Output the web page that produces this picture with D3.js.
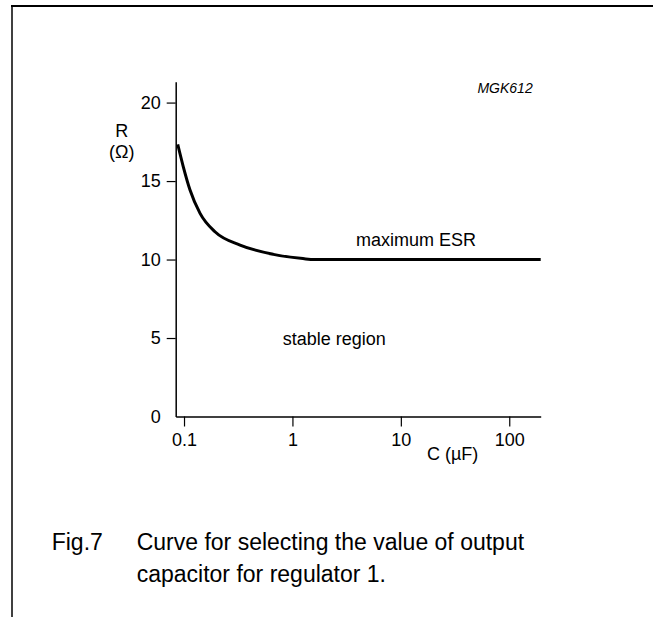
<!DOCTYPE html>
<html>
<head>
<meta charset="utf-8">
<script src="https://cdn.jsdelivr.net/npm/d3@7"></script>
<style>
  body { margin: 0; background: #fff; }
  svg { display: block; font-family: "Liberation Sans", Arial, sans-serif; }
</style>
</head>
<body>
<script>
// Data
const capacitance = [0.0875, 0.0985, 0.1136, 0.1406, 0.193, 0.329, 0.667, 1.25, 1.6, 10, 100, 195];
const maxEsr = [17.34, 15.91, 14.43, 12.94, 11.77, 10.92, 10.33, 10.06, 10.0, 10.0, 10.0, 10.0];
const xTicks = [0.1, 1, 10, 100];
const yTicks = [0, 5, 10, 15, 20];
const xTickLabels = ["0.1", "1", "10", "100"];

const width = 653, height = 617;

const svg = d3.select("body").append("svg")
    .attr("width", width)
    .attr("height", height);

// Frame
svg.append("line")
    .attr("x1", 11).attr("x2", width)
    .attr("y1", 6).attr("y2", 6)
    .attr("stroke", "#000").attr("stroke-width", 2);
svg.append("line")
    .attr("x1", 12).attr("x2", 12)
    .attr("y1", 5).attr("y2", height)
    .attr("stroke", "#000").attr("stroke-width", 1.5);

// Scales
const x = d3.scaleLog()
    .domain([0.0838, 195])
    .range([175.7, 540.7]);

const y = d3.scaleLinear()
    .domain([0, 21.33])
    .range([416.5, 81.7]);

// Axes
const xAxis = svg.append("g")
    .attr("transform", `translate(0,${y(0)})`)
    .call(d3.axisBottom(x)
        .tickValues(xTicks)
        .tickFormat((d, i) => xTickLabels[i])
        .tickSize(10)
        .tickSizeOuter(0)
        .tickPadding(7));

const yAxis = svg.append("g")
    .attr("transform", `translate(${x.range()[0]},0)`)
    .call(d3.axisLeft(y)
        .tickValues(yTicks)
        .tickSize(9)
        .tickSizeOuter(0)
        .tickPadding(6));

// no tick mark at 0
yAxis.selectAll(".tick").filter(d => d === 0).select("line").remove();

[xAxis, yAxis].forEach(g => {
    g.select(".domain").attr("stroke", "#000").attr("stroke-width", 1.5);
    g.selectAll(".tick line").attr("stroke", "#000").attr("stroke-width", 1.2);
    g.selectAll(".tick text")
        .attr("fill", "#000")
        .style("font-size", "18px")
        .style("font-family", "'Liberation Sans', Arial, sans-serif");
});

// Curve
const line = d3.line()
    .x((d, i) => x(capacitance[i]))
    .y(d => y(d))
    .curve(d3.curveMonotoneX);

svg.append("path")
    .datum(maxEsr)
    .attr("d", line)
    .attr("fill", "none")
    .attr("stroke", "#000")
    .attr("stroke-width", 3);

// Labels
const text = (s, tx, ty, size, anchor = "start", style = "normal") =>
    svg.append("text")
        .attr("x", tx).attr("y", ty)
        .attr("text-anchor", anchor)
        .style("font-size", size + "px")
        .style("font-style", style)
        .attr("fill", "#000")
        .text(s);

text("R", 121.7, 136.7, 18, "middle");
text("(Ω)", 121.7, 158, 18, "middle");
text("MGK612", 532.7, 93.3, 14, "end", "italic");
text("maximum ESR", 356, 245.7, 18);
text("stable region", 282.7, 345, 18);
text("C (µF)", 427, 460, 18);

// Caption
text("Fig.7", 51.7, 550, 23);
text("Curve for selecting the value of output", 136.7, 550, 23);
text("capacitor for regulator 1.", 136.7, 582, 23);
</script>
</body>
</html>
